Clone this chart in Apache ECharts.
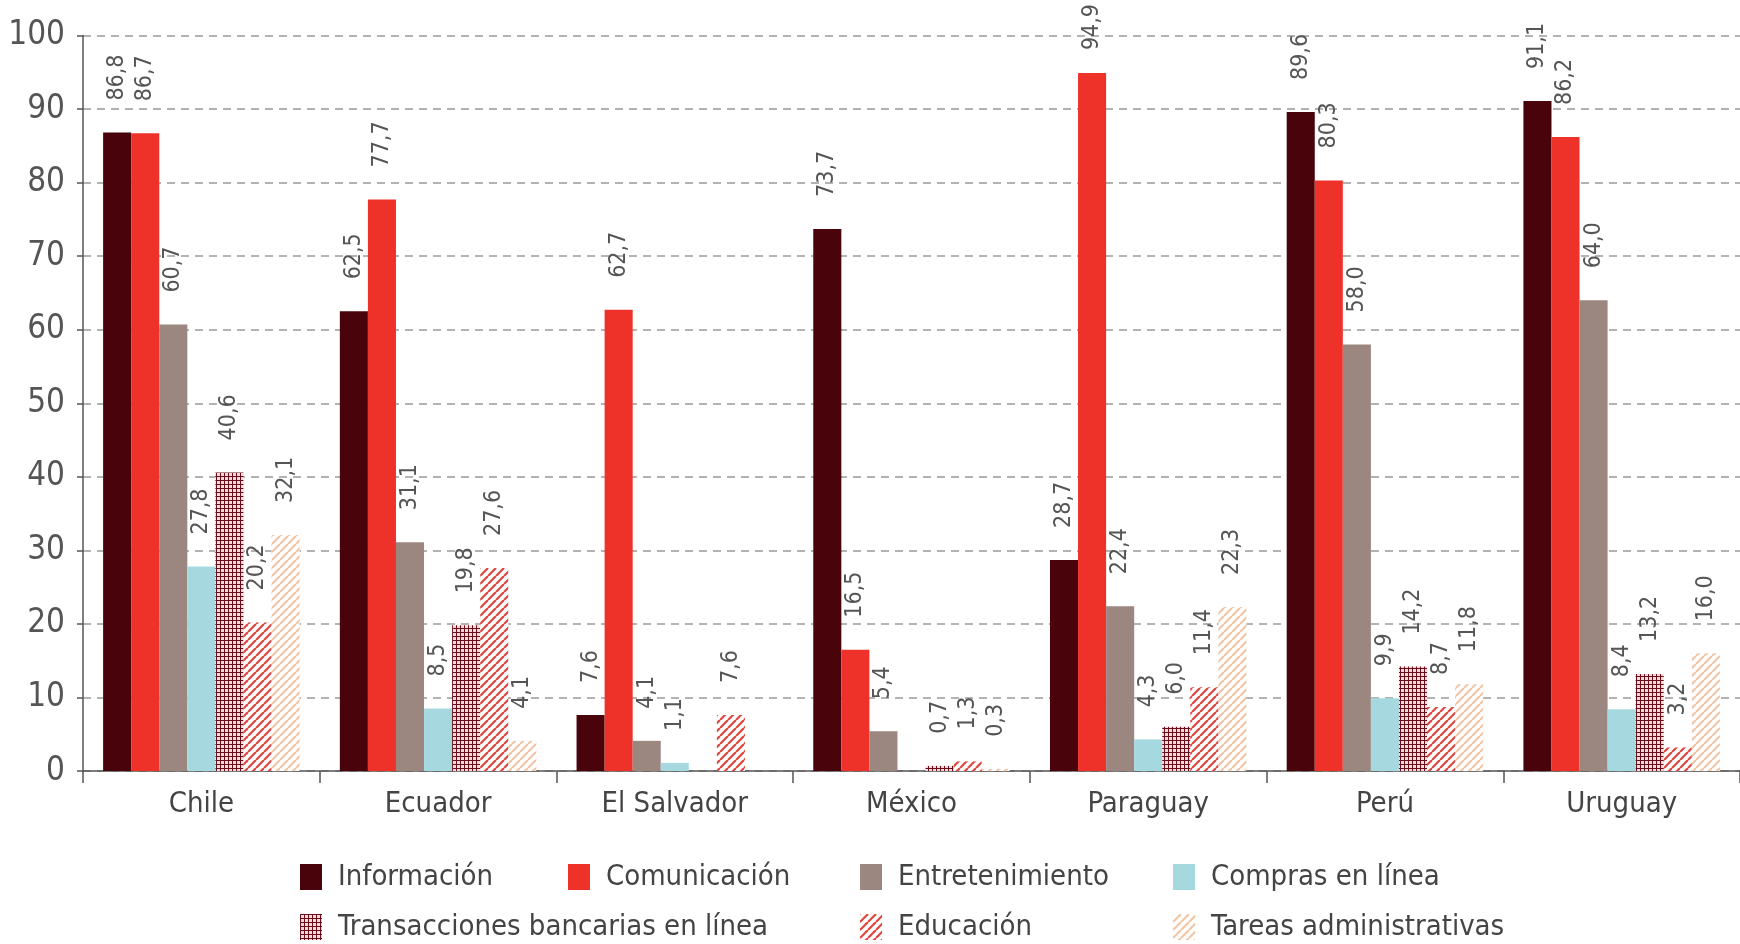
<!DOCTYPE html>
<html>
<head>
<meta charset="utf-8">
<script src="https://cdn.jsdelivr.net/npm/echarts@6/dist/echarts.min.js"></script>
<style>
  html, body { margin: 0; padding: 0; background: #ffffff; }
  #chart { width: 1740px; height: 944px; }
</style>
</head>
<body>
<div id="chart"></div>
<script>
// ---- Data ----
const categories = ['Chile', 'Ecuador', 'El Salvador', 'México', 'Paraguay', 'Perú', 'Uruguay'];
const seriesNames = ['Información', 'Comunicación', 'Entretenimiento', 'Compras en línea',
  'Transacciones bancarias en línea', 'Educación', 'Tareas administrativas'];
const informacion     = [86.8, 62.5, 7.6, 73.7, 28.7, 89.6, 91.1];
const comunicacion    = [86.7, 77.7, 62.7, 16.5, 94.9, 80.3, 86.2];
const entretenimiento = [60.7, 31.1, 4.1, 5.4, 22.4, 58.0, 64.0];
const compras         = [27.8, 8.5, 1.1, null, 4.3, 9.9, 8.4];
const bancarias       = [40.6, 19.8, null, 0.7, 6.0, 14.2, 13.2];
const educacion       = [20.2, 27.6, 7.6, 1.3, 11.4, 8.7, 3.2];
const tareas          = [32.1, 4.1, null, 0.3, 22.3, 11.8, 16.0];
const yMin = 0, yMax = 100, yStep = 10;

// ---- Patterns ----
function gridPattern() {
  const c = document.createElement('canvas');
  c.width = 4; c.height = 4;
  const g = c.getContext('2d');
  g.fillStyle = '#f7d9d9'; g.fillRect(0, 0, 4, 4);
  g.fillStyle = '#6b0c1a';
  g.fillRect(0, 0, 4, 1);
  g.fillRect(0, 0, 1, 4);
  return { image: c, repeat: 'repeat' };
}
function stripePattern(color) {
  const s = 8;
  const c = document.createElement('canvas');
  c.width = s; c.height = s;
  const g = c.getContext('2d');
  g.fillStyle = '#ffffff'; g.fillRect(0, 0, s, s);
  g.strokeStyle = color; g.lineWidth = 2.2;
  for (let k = -1; k <= 1; k++) {
    g.beginPath();
    g.moveTo(k * s, s);
    g.lineTo(k * s + s, 0);
    g.stroke();
  }
  return { image: c, repeat: 'repeat' };
}

const FONT = "'DejaVu Sans Condensed', 'Liberation Sans Narrow', 'Roboto', sans-serif";

const colors = ['#48030b', '#ee3129', '#9c8680', '#a5d9df', gridPattern(), stripePattern('#e2463f'), stripePattern('#f1c6a6')];
const values = [informacion, comunicacion, entretenimiento, compras, bancarias, educacion, tareas];

const chart = echarts.init(document.getElementById('chart'), null, { renderer: 'canvas' });

// keep rotated labels inside the canvas (push down if they would cross the top edge)
function keepInside(params) {
  const r = params.labelRect;
  if (r && r.y < 4) {
    return { x: r.x + r.width / 2, y: 4 + r.height };
  }
  return {};
}

const series = seriesNames.map((name, i) => ({
  name: name,
  type: 'bar',
  data: values[i],
  barGap: '0%',
  barCategoryGap: '17%',
  itemStyle: { color: colors[i] },
  label: {
    show: true,
    position: 'top',
    rotate: 90,
    align: 'left',
    verticalAlign: 'middle',
    distance: 32,
    color: '#555',
    fontFamily: FONT,
    fontSize: 23,
    formatter: p => (p.value == null ? '' : p.value.toFixed(1).replace('.', ','))
  },
  labelLayout: keepInside,
  emphasis: { disabled: true },
  animation: false
}));

// legend layout: [series index, left, top]
const legendSlots = [[0, 300, 862], [1, 568, 862], [2, 860, 862], [3, 1173, 862],
                     [4, 300, 912], [5, 860, 912], [6, 1173, 912]];
const legends = legendSlots.map(s => ({
  left: s[1], top: s[2],
  data: [seriesNames[s[0]]],
  icon: 'rect',
  itemWidth: 22,
  itemHeight: 26,
  selectedMode: false,
  padding: 0,
  textStyle: { fontFamily: FONT, fontSize: 29, color: '#444', lineHeight: 30, padding: [0, 0, 0, 11] }
}));

chart.setOption({
  backgroundColor: '#ffffff',
  animation: false,
  grid: { left: 83, top: 35.5, width: 1660, height: 735.5, containLabel: false },
  legend: legends,
  xAxis: {
    type: 'category',
    data: categories,
    axisLine: { lineStyle: { color: '#555', width: 1.5 } },
    axisTick: { show: true, length: 12, lineStyle: { color: '#555', width: 1.5 } },
    axisLabel: { fontFamily: FONT, fontSize: 29, color: '#444', margin: 19 }
  },
  yAxis: {
    type: 'value',
    min: yMin, max: yMax, interval: yStep,
    axisLine: { show: true, lineStyle: { color: '#555', width: 1.5 } },
    axisTick: { show: true, length: 6, lineStyle: { color: '#555', width: 1.5 } },
    axisLabel: { fontFamily: FONT, fontSize: 33, color: '#555', margin: 18 },
    splitLine: { show: true, lineStyle: { color: '#9a9a9a', width: 1.5, type: [8, 6] } }
  },
  series: series
});
</script>
</body>
</html>
